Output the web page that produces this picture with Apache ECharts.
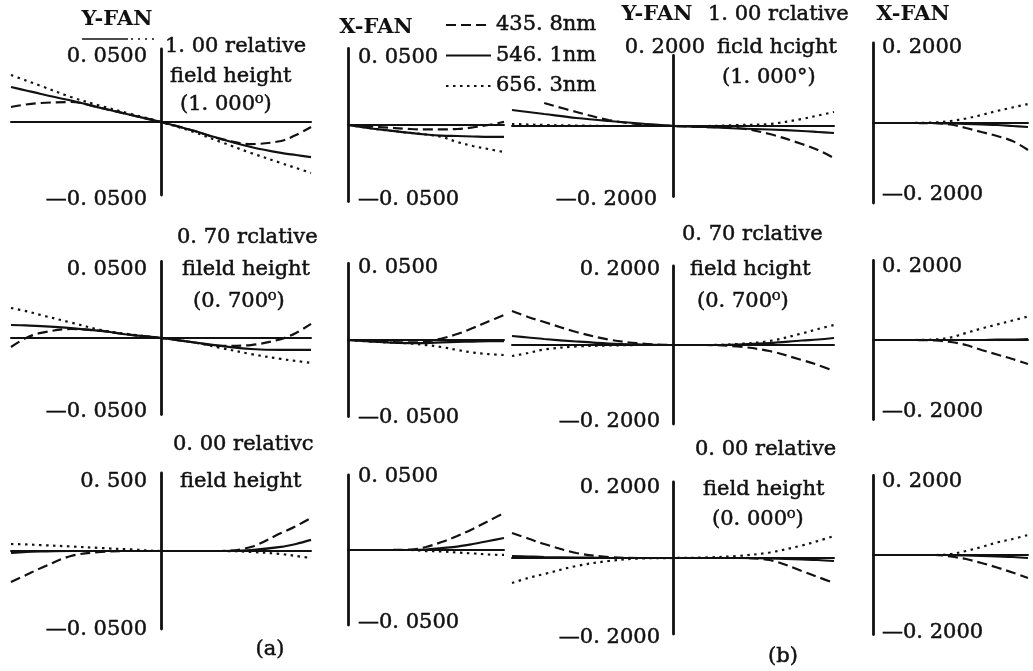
<!DOCTYPE html>
<html><head><meta charset="utf-8">
<script src="https://cdn.jsdelivr.net/npm/echarts@6/dist/echarts.min.js"></script>
<style>html,body{margin:0;padding:0;background:#fff}#c{width:1033px;height:671px}</style>
</head><body><div id="c"></div>
<script>
// ---------- data ----------
const wavelengths = ['435. 8nm', '546. 1nm', '656. 3nm'];
const yFanX = [-1, -0.9, -0.8, -0.6, -0.4, -0.2, 0, 0.2, 0.4, 0.6, 0.8, 0.9, 1];
const xFanX = [0, 0.2, 0.4, 0.5, 0.6, 0.7, 0.8, 0.9, 1];

const ticksA = ['0. 0500', '—0. 0500'];
const ticksA3 = ['0. 500', '—0. 0500'];
const ticksB = ['0. 2000', '—0. 2000'];

// (a) 1.00 field
const aY1_435 = [0.0103, 0.0120, 0.0130, 0.0137, 0.0096, 0.0048, 0, -0.0055, -0.0116, -0.0151, -0.0130, -0.0089, -0.0034];
const aY1_546 = [0.0240, 0.0216, 0.0192, 0.0147, 0.0096, 0.0048, 0, -0.0055, -0.0116, -0.0171, -0.0212, -0.0226, -0.0240];
const aY1_656 = [0.0322, 0.0284, 0.0247, 0.0171, 0.0110, 0.0055, 0, -0.0062, -0.0137, -0.0212, -0.0281, -0.0315, -0.0349];
const aX1_435 = [0, -0.0013, -0.0026, -0.0029, -0.0029, -0.0026, -0.0016, 0, 0.0020];
const aX1_546 = [0, -0.0029, -0.0052, -0.0062, -0.0069, -0.0072, -0.0075, -0.0078, -0.0078];
const aX1_656 = [0, -0.0029, -0.0052, -0.0062, -0.0078, -0.0111, -0.0137, -0.0157, -0.0177];
// (b) 1.00 field
const bY1_435 = [null, null, 0.0653, 0.0397, 0.0170, 0.0043, 0, -0.0028, -0.0057, -0.0227, -0.0511, -0.0681, -0.0908];
const bY1_546 = [0.0454, 0.0397, 0.0340, 0.0227, 0.0142, 0.0071, 0, -0.0028, -0.0071, -0.0099, -0.0142, -0.0170, -0.0199];
const bY1_656 = [0.0057, 0.0043, 0.0028, 0.0014, 0, 0, 0, 0, 0.0028, 0.0057, 0.0199, 0.0298, 0.0397];
const bX1_435 = [0, 0, -0.0005, -0.0038, -0.0125, -0.0225, -0.0325, -0.0450, -0.0675];
const bX1_546 = [0, 0, 0, -0.0013, -0.0025, -0.0038, -0.0050, -0.0075, -0.0100];
const bX1_656 = [0, 0, 0.0013, 0.0050, 0.0113, 0.0200, 0.0300, 0.0388, 0.0475];
// (a) 0.70 field
const aY2_435 = [-0.0059, 0, 0.0033, 0.0059, 0.0046, 0.0020, 0, -0.0026, -0.0052, -0.0046, -0.0007, 0.0033, 0.0092];
const aY2_546 = [0.0085, 0.0082, 0.0078, 0.0065, 0.0046, 0.0020, 0, -0.0026, -0.0052, -0.0072, -0.0078, -0.0078, -0.0078];
const aY2_656 = [0.0196, 0.0176, 0.0150, 0.0101, 0.0052, 0.0023, 0, -0.0026, -0.0065, -0.0105, -0.0137, -0.0150, -0.0163];
const aX2_435 = [0, -0.0010, -0.0016, -0.0010, 0.0010, 0.0039, 0.0078, 0.0121, 0.0164];
const aX2_546 = [0, -0.0013, -0.0020, -0.0020, -0.0016, -0.0013, -0.0010, -0.0007, -0.0007];
const aX2_656 = [0, -0.0013, -0.0023, -0.0033, -0.0046, -0.0065, -0.0082, -0.0092, -0.0098];
// (b) 0.70 field
const bY2_435 = [0.0861, 0.0709, 0.0582, 0.0329, 0.0139, 0.0038, 0, 0, -0.0038, -0.0152, -0.0380, -0.0506, -0.0658];
const bY2_546 = [0.0228, 0.0190, 0.0152, 0.0089, 0.0038, 0.0013, 0, 0, 0.0013, 0.0051, 0.0114, 0.0139, 0.0177];
const bY2_656 = [-0.0279, -0.0203, -0.0114, -0.0038, -0.0013, 0, 0, 0, 0.0025, 0.0101, 0.0291, 0.0405, 0.0506];
const bX2_435 = [0, 0, -0.0013, -0.0050, -0.0126, -0.0252, -0.0365, -0.0478, -0.0604];
const bX2_546 = [0, 0, 0, 0, 0, 0, 0.0013, 0.0013, 0.0025];
const bX2_656 = [0, 0, 0.0013, 0.0063, 0.0176, 0.0289, 0.0390, 0.0491, 0.0591];
// (a) 0.00 field
const aY3_435 = [-0.0199, -0.0154, -0.0109, -0.0032, -0.0006, 0, 0, 0, 0, 0.0026, 0.0115, 0.0160, 0.0212];
const aY3_546 = [-0.0013, -0.0006, -0.0003, 0, 0, 0, 0, 0, 0, 0.0006, 0.0026, 0.0045, 0.0071];
const aY3_656 = [0.0045, 0.0042, 0.0038, 0.0029, 0.0019, 0.0010, 0, 0, 0, -0.0006, -0.0019, -0.0032, -0.0045];
const aX3_435 = [0, 0, 0.0003, 0.0020, 0.0053, 0.0093, 0.0140, 0.0193, 0.0247];
const aX3_546 = [0, 0, 0, 0.0003, 0.0013, 0.0023, 0.0040, 0.0060, 0.0080];
const aX3_656 = [0, 0, 0, -0.0007, -0.0010, -0.0017, -0.0023, -0.0030, -0.0033];
// (b) 0.00 field
const bY3_435 = [0.0658, 0.0513, 0.0368, 0.0132, 0.0026, 0, 0, 0, 0, -0.0053, -0.0342, -0.0500, -0.0658];
const bY3_546 = [0.0053, 0.0039, 0.0026, 0.0013, 0, 0, 0, 0, 0, -0.0013, -0.0039, -0.0053, -0.0079];
const bY3_656 = [-0.0658, -0.0526, -0.0421, -0.0211, -0.0079, -0.0013, 0, 0.0013, 0.0053, 0.0145, 0.0329, 0.0447, 0.0579];
const bX3_435 = [0, 0, 0, -0.0038, -0.0101, -0.0201, -0.0314, -0.0440, -0.0579];
const bX3_546 = [0, 0, 0, 0, -0.0013, -0.0025, -0.0038, -0.0050, -0.0075];
const bX3_656 = [0, 0, 0, 0.0025, 0.0101, 0.0201, 0.0314, 0.0403, 0.0503];

// ---------- layout ----------
const FONT = '"DejaVu Serif", "Liberation Serif", serif';
const INK = '#111';
const TB = 0.5; // slight text weight to match the scanned print
const cols = [
  {left: 11, width: 300, xmin: -1, xmax: 1, xs: yFanX, inside: false, margin: 14},
  {left: 348, width: 156, xmin: 0, xmax: 1, xs: xFanX, inside: true, margin: 10},
  {left: 512, width: 322, xmin: -1, xmax: 1, xs: yFanX, inside: false, margin: 13},
  {left: 873, width: 155, xmin: 0, xmax: 1, xs: xFanX, inside: true, margin: 9}
];
const panels = [
  {c: 0, top: 49, h: 146, r: 0.05, t: ticksA, d: [aY1_435, aY1_546, aY1_656], s: [8, 5]},
  {c: 1, top: 48.5, h: 153, r: 0.05, t: ticksA, d: [aX1_435, aX1_546, aX1_656], s: [9.5, -1.5]},
  {c: 2, top: 55.5, h: 141, r: 0.2, t: ticksB, d: [bY1_435, bY1_546, bY1_656], s: [-7.5, 3.5], m: -32, hb: 48},
  {c: 3, top: 43, h: 160, r: 0.2, t: ticksB, d: [bX1_435, bX1_546, bX1_656], s: [5, -8]},
  {c: 0, top: 261.5, h: 153, r: 0.05, t: ticksA, d: [aY2_435, aY2_546, aY2_656], s: [8.5, -2.5]},
  {c: 1, top: 263.5, h: 153, r: 0.05, t: ticksA, d: [aX2_435, aX2_546, aX2_656], s: [4.5, 1.5]},
  {c: 2, top: 266, h: 158, r: 0.2, t: ticksB, d: [bY2_435, bY2_546, bY2_656], s: [4, -2]},
  {c: 3, top: 260.5, h: 159, r: 0.2, t: ticksB, d: [bX2_435, bX2_546, bX2_656], s: [6.5, -7.5]},
  {c: 0, top: 473, h: 156, r: 0.05, t: ticksA3, d: [aY3_435, aY3_546, aY3_656], s: [9, 1]},
  {c: 1, top: 475, h: 150, r: 0.05, t: ticksA, d: [aX3_435, aX3_546, aX3_656], s: [2, -2]},
  {c: 2, top: 482, h: 152, r: 0.2, t: ticksB, d: [bY3_435, bY3_546, bY3_656], s: [6, 4]},
  {c: 3, top: 475.5, h: 159, r: 0.2, t: ticksB, d: [bX3_435, bX3_546, bX3_656], s: [6.5, -1.5]}
];
const lineTypes = [[10, 5], 'solid', [2.5, 4.5]];

const grid = [], xAxis = [], yAxis = [], series = [];
function pad(dy, right) {
  return [Math.max(0, 2 * dy), right || 0, Math.max(0, -2 * dy), 0];
}
panels.forEach((p, i) => {
  const col = cols[p.c];
  grid.push({left: col.left, width: col.width, top: p.top, height: p.h, containLabel: false, outerBoundsMode: 'none'});
  xAxis.push({
    type: 'value', gridIndex: i, min: col.xmin, max: col.xmax,
    axisLine: {show: true, onZero: true, lineStyle: {color: INK, width: 2}},
    axisTick: {show: false}, axisLabel: {show: false}, splitLine: {show: false}
  });
  const hb = p.hb || 0;
  let margin = p.m !== undefined ? p.m : col.margin;
  if (!col.inside) margin -= col.width / 2;
  const base = {fontFamily: FONT, fontSize: 21, color: INK, textBorderColor: INK, textBorderWidth: TB};
  yAxis.push({
    type: 'value', gridIndex: i, min: -p.r, max: p.r,
    axisLine: {show: true, onZero: true, lineStyle: {color: INK, width: 2.8}},
    axisTick: {show: false}, splitLine: {show: false},
    axisLabel: Object.assign({
      show: true, inside: col.inside, margin: margin,
      customValues: [-p.r, p.r],
      formatter: v => v > 0 ? '{t|' + p.t[0] + '}' : '{b|' + p.t[1] + '}',
      rich: {
        t: Object.assign({padding: pad(p.s[0])}, base),
        b: Object.assign({padding: pad(p.s[1], hb)}, base)
      }
    }, base)
  });
  p.d.forEach((arr, k) => {
    series.push({
      type: 'line', name: wavelengths[k], xAxisIndex: i, yAxisIndex: i,
      data: col.xs.map((x, j) => [x, arr[j]]),
      smooth: 0.35, showSymbol: false, symbol: 'none', silent: true, connectNulls: false,
      lineStyle: {color: INK, width: 2.2, type: lineTypes[k]}
    });
  });
});

function txt(s, x, y, align, bold) {
  return {type: 'text', x: x, y: y, silent: true,
    style: {text: s, fill: INK, stroke: INK, lineWidth: bold ? 0 : TB,
      font: (bold ? 'bold ' : '') + '21px ' + FONT, textAlign: align || 'left', textVerticalAlign: 'middle'}};
}
const graphics = [
  txt('Y-FAN', 117, 20, 'center', true),
  txt('X-FAN', 376, 28, 'center', true),
  txt('Y-FAN', 657, 15, 'center', true),
  txt('1. 00 rclative', 708, 15),
  txt('X-FAN', 913, 15, 'center', true),
  txt('1. 00 relative', 165, 47),
  txt('field height', 170, 77),
  txt('(1. 000⁰)', 180, 105),
  txt('ficld hcight', 717, 48),
  txt('(1. 000°)', 722, 78),
  txt('0. 70 rclative', 177, 238),
  txt('fileld height', 182, 270),
  txt('(0. 700⁰)', 193, 302),
  txt('0. 70 rclative', 682, 235),
  txt('field hcight', 690, 270),
  txt('(0. 700⁰)', 697, 302),
  txt('0. 00 relativc', 173, 445),
  txt('field height', 180, 482),
  txt('0. 00 relative', 695, 450),
  txt('field height', 703, 490),
  txt('(0. 000⁰)', 712, 520),
  txt('(a)', 270, 650, 'center'),
  txt('(b)', 783, 657, 'center'),
  {type: 'line', silent: true, shape: {x1: 82, y1: 39, x2: 128, y2: 39}, style: {stroke: INK, lineWidth: 1.5}},
  {type: 'line', silent: true, shape: {x1: 131, y1: 39, x2: 157, y2: 39}, style: {stroke: INK, lineWidth: 1.5, lineDash: [2, 5]}}
];

const chart = echarts.init(document.getElementById('c'));
chart.setOption({
  backgroundColor: '#fff',
  animation: false,
  legend: {
    orient: 'vertical', left: 445, top: 14, padding: 0,
    itemWidth: 45, itemHeight: 12, itemGap: 8.5, selectedMode: false,
    itemStyle: {opacity: 0},
    textStyle: {fontFamily: FONT, fontSize: 21, color: INK, lineHeight: 22, textBorderColor: INK, textBorderWidth: TB},
    data: wavelengths
  },
  grid: grid, xAxis: xAxis, yAxis: yAxis, series: series,
  graphic: graphics
});
</script></body></html>
